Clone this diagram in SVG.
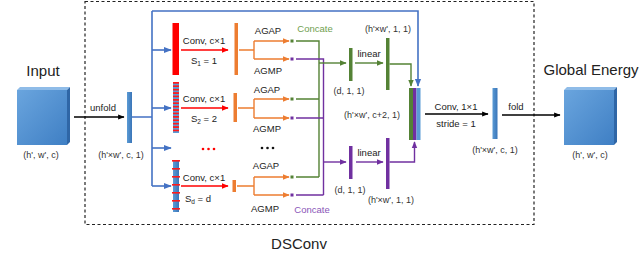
<svg xmlns="http://www.w3.org/2000/svg" width="640" height="267" viewBox="0 0 640 267">
<defs>
<style>
text{font-family:"Liberation Sans",Arial,sans-serif;fill:#222;}
.big{font-size:15px;}
.lb{font-size:9.5px;text-anchor:middle;}
.sm{font-size:9px;text-anchor:middle;fill:#333;}
.bl{stroke:#4472c4;stroke-width:1.6;fill:none;}
.rd{stroke:#ff0000;stroke-width:1.4;fill:none;}
.or{stroke:#ed7d31;stroke-width:1.4;fill:none;}
.gr{stroke:#548235;stroke-width:1.4;fill:none;}
.pu{stroke:#7030a0;stroke-width:1.4;fill:none;}
.bk{stroke:#000;stroke-width:1.3;fill:none;}
</style>
<linearGradient id="cubeF" x1="0" y1="0" x2="1" y2="1"><stop offset="0" stop-color="#6aa5de"/><stop offset="1" stop-color="#3f7fc4"/></linearGradient>
<linearGradient id="barG" x1="0" y1="0" x2="1" y2="0"><stop offset="0" stop-color="#5b9bd5"/><stop offset="1" stop-color="#3a75b8"/></linearGradient>
<pattern id="stripe" x="0" y="82" width="8" height="3.4" patternUnits="userSpaceOnUse"><rect width="8" height="3.4" fill="#5b9bd5"/><rect width="8" height="1.7" fill="#ff1a1a"/></pattern>
<marker id="aBl" viewBox="0 0 10 10" refX="9" refY="5" markerWidth="5" markerHeight="5" orient="auto"><path d="M0,1 L10,5 L0,9z" fill="#4472c4"/></marker>
<marker id="aRd" viewBox="0 0 10 10" refX="9" refY="5" markerWidth="5" markerHeight="5" orient="auto"><path d="M0,1 L10,5 L0,9z" fill="#ff0000"/></marker>
<marker id="aOr" viewBox="0 0 10 10" refX="9" refY="5" markerWidth="5" markerHeight="5" orient="auto"><path d="M0,1 L10,5 L0,9z" fill="#ed7d31"/></marker>
<marker id="aGr" viewBox="0 0 10 10" refX="9" refY="5" markerWidth="5" markerHeight="5" orient="auto"><path d="M0,1 L10,5 L0,9z" fill="#548235"/></marker>
<marker id="aPu" viewBox="0 0 10 10" refX="9" refY="5" markerWidth="5" markerHeight="5" orient="auto"><path d="M0,1 L10,5 L0,9z" fill="#7030a0"/></marker>
<marker id="aBk" viewBox="0 0 10 10" refX="9" refY="5" markerWidth="5" markerHeight="5" orient="auto"><path d="M0,1 L10,5 L0,9z" fill="#000"/></marker>
</defs>
<rect width="640" height="267" fill="#fff"/>

<!-- DSConv dashed frame -->
<g id="dsconv-frame">
<rect x="85" y="1.5" width="449" height="223" fill="none" stroke="#222" stroke-width="1.2" stroke-dasharray="3,2.5"/>
<text class="big" x="299" y="249" text-anchor="middle">DSConv</text>
</g>

<!-- Input cube -->
<g id="input">
<text class="big" x="43" y="76" text-anchor="middle">Input</text>
<polygon points="17,90 20,87 70,87 67,90" fill="#8fbce8"/>
<polygon points="67,90 70,87 70,142 67,145" fill="#2f66a6"/>
<rect x="17" y="90" width="50" height="55" fill="url(#cubeF)"/>
<text class="sm" x="41" y="158">(h', w', c)</text>
</g>

<!-- unfolded bar -->
<g id="unfolded">
<rect x="127" y="92" width="5" height="51" fill="url(#barG)"/>
<text class="sm" x="121" y="158">(h'×w', c, 1)</text>
</g>

<!-- conv branch bars -->
<g id="bar-s1"><rect x="172.5" y="23" width="6.5" height="52" fill="#ff0000"/></g>
<g id="bar-s2"><rect x="173" y="82" width="6" height="51" fill="url(#stripe)"/></g>
<g id="bar-sd">
<rect x="173" y="160" width="6" height="52" fill="url(#barG)"/>
<g fill="#ff1a1a">
<rect x="172" y="160" width="8" height="1.6"/><rect x="172" y="168" width="8" height="1.6"/><rect x="172" y="176" width="8" height="1.6"/><rect x="172" y="184" width="8" height="1.6"/><rect x="172" y="192" width="8" height="1.6"/><rect x="172" y="200" width="8" height="1.6"/><rect x="172" y="208" width="8" height="1.6"/>
</g>
</g>
<g id="dots-red" fill="#ff0000"><circle cx="203" cy="149" r="1.3"/><circle cx="208.5" cy="149" r="1.3"/><circle cx="214" cy="149" r="1.3"/></g>

<!-- orange bars -->
<g id="orange-1"><rect x="234.5" y="23" width="3.5" height="52" fill="#ed7d31"/></g>
<g id="orange-2"><rect x="233.5" y="93" width="3.5" height="29" fill="#ed7d31"/></g>
<g id="orange-d"><rect x="232.5" y="180" width="3.5" height="12" fill="#ed7d31"/></g>

<!-- pooled dots -->
<g id="pooled">
<rect x="290.5" y="39.5" width="3" height="3" fill="#548235"/><rect x="290.5" y="57.5" width="3" height="3" fill="#7030a0"/>
<rect x="290.5" y="97.5" width="3" height="3" fill="#548235"/><rect x="290.5" y="116.5" width="3" height="3" fill="#7030a0"/>
<rect x="290.5" y="175.5" width="3" height="3" fill="#548235"/><rect x="290.5" y="193.5" width="3" height="3" fill="#7030a0"/>
</g>
<g id="dots-black" fill="#111"><circle cx="262" cy="148" r="1.3"/><circle cx="267.5" cy="148" r="1.3"/><circle cx="273" cy="148" r="1.3"/></g>

<!-- attention bars -->
<g id="green-d"><rect x="349" y="48" width="3.5" height="33" fill="#548235"/></g>
<g id="green-hw"><rect x="386" y="38" width="3.5" height="52" fill="#548235"/></g>
<g id="purple-d"><rect x="349" y="146" width="3.5" height="33" fill="#7030a0"/></g>
<g id="purple-hw"><rect x="386" y="138" width="3.5" height="51" fill="#7030a0"/></g>

<!-- concatenated bar -->
<g id="concat-bar">
<rect x="409" y="88" width="4" height="52" fill="#548235"/>
<rect x="413" y="88" width="3.5" height="52" fill="#7030a0"/>
<rect x="416.5" y="88" width="4" height="52" fill="#5b9bd5"/>
<text class="sm" x="372" y="118">(h'×w', c+2, 1)</text>
</g>

<!-- output bar -->
<g id="out-bar">
<rect x="492.5" y="88" width="5" height="51" fill="url(#barG)"/>
<text class="sm" x="495" y="153">(h'×w', c, 1)</text>
</g>

<!-- Global energy cube -->
<g id="global-energy">
<text class="big" x="591" y="75" text-anchor="middle">Global Energy</text>
<polygon points="564,90 567,87 617,87 614,90" fill="#8fbce8"/>
<polygon points="614,90 617,87 617,142 614,145" fill="#2f66a6"/>
<rect x="564" y="90" width="50" height="55" fill="url(#cubeF)"/>
<text class="sm" x="590" y="158">(h', w', c)</text>
</g>

<!-- labels -->
<g id="labels">
<text class="lb" x="103" y="111">unfold</text>
<text class="lb" x="204" y="44">Conv, c×1</text>
<text class="lb" x="204" y="64">S<tspan font-size="6.5" dy="2">1</tspan><tspan dy="-2"> = 1</tspan></text>
<text class="lb" x="204" y="102">Conv, c×1</text>
<text class="lb" x="204" y="122">S<tspan font-size="6.5" dy="2">2</tspan><tspan dy="-2"> = 2</tspan></text>
<text class="lb" x="204" y="181">Conv, c×1</text>
<text class="lb" x="198" y="202">S<tspan font-size="6.5" dy="2">d</tspan><tspan dy="-2"> = d</tspan></text>
<text class="lb" x="268" y="34">AGAP</text>
<text class="lb" x="268" y="74">AGMP</text>
<text class="lb" x="267" y="93">AGAP</text>
<text class="lb" x="267" y="132">AGMP</text>
<text class="lb" x="266" y="169">AGAP</text>
<text class="lb" x="265" y="212">AGMP</text>
<text class="lb" x="315" y="32" style="fill:#70a050">Concate</text>
<text class="lb" x="312" y="213" style="fill:#8a55b8">Concate</text>
<text class="lb" x="369" y="57">linear</text>
<text class="lb" x="369" y="156">linear</text>
<text class="sm" x="349" y="94">(d, 1, 1)</text>
<text class="sm" x="350" y="193">(d, 1, 1)</text>
<text class="sm" x="388" y="32">(h'×w', 1, 1)</text>
<text class="sm" x="391" y="203">(h'×w', 1, 1)</text>
<text class="lb" x="456" y="110">Conv, 1×1</text>
<text class="lb" x="456" y="127">stride = 1</text>
<text class="lb" x="516" y="110">fold</text>
</g>

<!-- connectors -->
<g id="connectors">
<line class="bk" x1="74" y1="117" x2="124" y2="117" marker-end="url(#aBk)"/>
<line class="bk" x1="425" y1="114" x2="488" y2="114" marker-end="url(#aBk)"/>
<line class="bk" x1="502" y1="115" x2="560" y2="115" marker-end="url(#aBk)"/>

<path class="bl" d="M132,117 H152 M152,11 V186"/>
<line class="bl" x1="152" y1="50" x2="171" y2="50" marker-end="url(#aBl)"/>
<line class="bl" x1="152" y1="108" x2="171" y2="108" marker-end="url(#aBl)"/>
<line class="bl" x1="152" y1="148" x2="171" y2="148" marker-end="url(#aBl)"/>
<line class="bl" x1="152" y1="186" x2="171" y2="186" marker-end="url(#aBl)"/>
<path class="bl" d="M152,11 H418 V86" marker-end="url(#aBl)"/>

<line class="rd" x1="181" y1="50" x2="228" y2="50" marker-end="url(#aRd)"/>
<line class="rd" x1="181" y1="108" x2="228" y2="108" marker-end="url(#aRd)"/>
<line class="rd" x1="181" y1="186" x2="228" y2="186" marker-end="url(#aRd)"/>

<path class="or" d="M239,50 H254 M254,41 V59"/>
<line class="or" x1="254" y1="41" x2="289" y2="41" marker-end="url(#aOr)"/>
<line class="or" x1="254" y1="59" x2="289" y2="59" marker-end="url(#aOr)"/>
<path class="or" d="M238,108 H254 M254,99 V118"/>
<line class="or" x1="254" y1="99" x2="289" y2="99" marker-end="url(#aOr)"/>
<line class="or" x1="254" y1="118" x2="289" y2="118" marker-end="url(#aOr)"/>
<path class="or" d="M237,186 H254 M254,177 V195"/>
<line class="or" x1="254" y1="177" x2="289" y2="177" marker-end="url(#aOr)"/>
<line class="or" x1="254" y1="195" x2="289" y2="195" marker-end="url(#aOr)"/>

<path class="gr" d="M296,41 H319 V177 M296,99 H319 M296,177 H319"/>
<path class="pu" d="M296,59 H323.5 V195 M296,118 H323.5 M296,195 H323.5"/>
<line class="gr" x1="319" y1="63" x2="346" y2="63" marker-end="url(#aGr)"/>
<line class="pu" x1="323.5" y1="162" x2="346" y2="162" marker-end="url(#aPu)"/>
<line class="gr" x1="355" y1="63" x2="383" y2="63" marker-end="url(#aGr)"/>
<line class="pu" x1="356" y1="162" x2="383" y2="162" marker-end="url(#aPu)"/>
<path class="gr" d="M389.5,64 H411 V86" marker-end="url(#aGr)"/>
<path class="pu" d="M389.5,162 H414.5 V142" marker-end="url(#aPu)"/>
</g>
</svg>
